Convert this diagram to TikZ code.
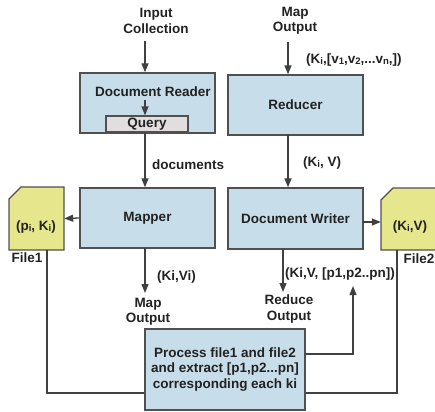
\documentclass[tikz,border=0pt]{standalone}
\usepackage{fontspec}
\setmainfont{Liberation Sans}[BoldFont={* Bold}]
\usetikzlibrary{arrows.meta}
\definecolor{boxblue}{RGB}{199,221,233}
\definecolor{boxline}{RGB}{80,80,80}
\definecolor{fileyel}{RGB}{230,230,140}
\definecolor{qgray}{RGB}{226,222,222}
\definecolor{txt}{RGB}{34,34,34}
\newcommand\sbs[1]{\raisebox{-1pt}{\fontsize{9.5}{9.5}\selectfont #1}}
\tikzset{
  lbl/.style={font=\bfseries\fontsize{13.5}{15.5}\selectfont, text=txt, inner sep=0pt, align=center},
  box/.style={draw=boxline, line width=1.4pt, fill=boxblue, rectangle, inner sep=0pt},
  filebox/.style={draw=boxline, line width=1.4pt, fill=fileyel},
  conn/.style={draw=boxline!80!black, line width=1.3pt},
  arr/.style={conn, -{Triangle[length=9pt,width=7pt]}},
}
\begin{document}
\begin{tikzpicture}[x=1pt,y=-1pt]
\useasboundingbox (0,0) rectangle (435,411);
% boxes
\node[box, minimum width=135pt, minimum height=60pt] (reader) at (147.5,103) {};
\node[lbl] (readerlbl) at (153,92) {Document Reader};
\node[draw=boxline, line width=1.2pt, fill=qgray, minimum width=82pt, minimum height=16pt, inner sep=0pt, font=\bfseries\fontsize{13.5}{15.5}\selectfont, text=txt] (query) at (147,124) {Query};
\node[box, minimum width=135pt, minimum height=60pt] (mapper) at (147.5,218) {};
\node[lbl] at (mapper) {Mapper};
\node[box, minimum width=135pt, minimum height=60pt] (reducer) at (295.5,105) {};
\node[lbl] at (reducer) {Reducer};
\node[box, minimum width=135pt, minimum height=61pt] (writer) at (295.5,218.5) {};
\node[lbl] at (writer) {Document Writer};
\node[box, minimum width=160pt, minimum height=81pt] (proc) at (225,369.5) {};
\node[lbl] at (proc) {Process file1 and file2\\and extract [p1,p2...pn]\\corresponding each ki};
% files
\draw[filebox] (9,199) -- (21,187) -- (64,187) -- (64,250) -- (9,250) -- cycle;
\node[minimum width=55pt, minimum height=63pt, inner sep=0pt] (file1) at (36.5,218.5) {};
\node[lbl] at (36,227) {(p\sbs{i}, K\sbs{i})};
\node[lbl] (file1lbl) at (27,258) {File1};
\draw[filebox] (381,200) -- (393,188) -- (442,188) -- (442,250) -- (381,250) -- cycle;
\node[minimum width=61pt, minimum height=62pt, inner sep=0pt] (file2) at (411.5,219) {};
\node[lbl] at (410,227) {(K\sbs{i},V)};
\node[lbl] (file2lbl) at (419,259) {File2};
% free labels
\node[lbl] (input) at (156,21) {Input\\Collection};
\node[lbl] (mapout1) at (295,21) {Map\\Output};
\node[lbl] (mapout2) at (148,312) {Map\\Output};
\node[lbl] (redout) at (289,309) {Reduce\\Output};
\node[lbl, anchor=west] at (306,60) {(K\sbs{i},[v\sbs{1},v\sbs{2},...v\sbs{n},])};
\node[lbl, anchor=west] at (152,165) {documents};
\node[lbl, anchor=west] at (303,163) {(K\sbs{i}, V)};
\node[lbl, anchor=west] at (157,277) {(Ki,Vi)};
\node[lbl, anchor=west] at (285,274) {(Ki,V, [p1,p2..pn])};
% connectors
\coordinate (a1) at (145,41);
\draw[arr] (a1) -- (a1 |- reader.north);
\coordinate (a2) at (145,100);
\draw[arr] (a2) -- (a2 |- query.north);
\draw[arr] (145,133) coordinate (a3) -- (a3 |- mapper.north);
\draw[arr] (mapper.west) -- (file1.east);
\coordinate (a4) at (145,248);
\coordinate (a4e) at (145,293);
\draw[arr] (a4) -- (a4e);
\coordinate (b1) at (288,42);
\draw[arr] (b1) -- (b1 |- reducer.north);
\coordinate (b2) at (288,135);
\draw[arr] (b2) -- (b2 |- writer.north);
\coordinate (b3) at (363,222);
\draw[arr] (b3) -- (file2.west |- b3);
\coordinate (b4) at (283,249);
\coordinate (b4e) at (283,292);
\draw[arr] (b4) -- (b4e);
\coordinate (c1) at (305,354);
\coordinate (c1e) at (353,286);
\draw[arr] (c1) -| (c1e);
\coordinate (f1b) at (47,250);
\draw[conn] (f1b) |- (proc.west |- 0,393);
\coordinate (f2b) at (397,250);
\draw[conn] (f2b) |- (proc.east |- 0,393);
\end{tikzpicture}
\end{document}
